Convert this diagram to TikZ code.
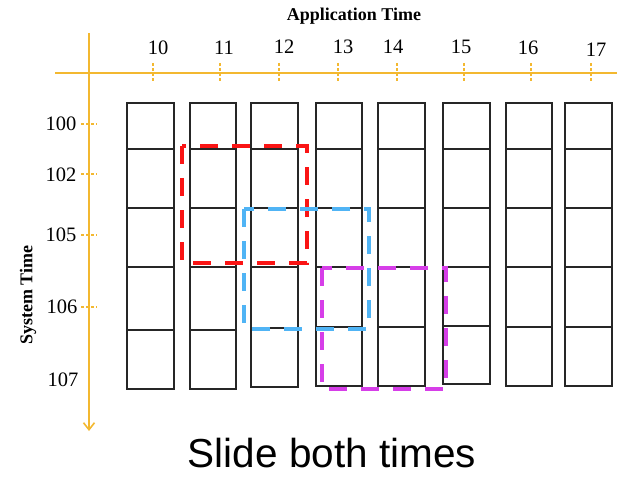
\documentclass[tikz,border=0pt]{standalone}
\usepackage{fontspec}
\setmainfont{Liberation Serif}
\newfontfamily\slidefont{Liberation Sans}
\usetikzlibrary{arrows.meta}
\definecolor{axisorange}{RGB}{243,184,48}
\definecolor{winred}{RGB}{250,20,20}
\definecolor{winblue}{RGB}{80,180,245}
\definecolor{winmag}{RGB}{214,62,232}
\tikzset{
  axis/.style={draw=axisorange, line width=1.6pt},
  tick/.style={draw=axisorange, line width=1.3pt, dash pattern=on 3pt off 2pt},
  ticklabel/.style={font=\fontsize{20.5}{21}\selectfont, inner sep=0pt},
  axistitle/.style={font=\fontsize{18}{19}\selectfont\bfseries, inner sep=0pt},
  cell/.style={draw=black!85, line width=1.2pt, rectangle, inner sep=0pt},
  window/.style={draw=#1, line width=4.5pt, dash pattern=on 18pt off 14pt},
}
\begin{document}
\begin{tikzpicture}[x=1pt, y=-1pt]
\useasboundingbox (0,0) rectangle (617,478);

% axes
\coordinate (hstart) at (55,73);
\coordinate (hend) at (617,73);
\coordinate (vstart) at (89,33);
\coordinate (vend) at (89,431);
\draw[axis] (hstart) -- (hend);
\draw[axis, -{Straight Barb[length=7pt, width=11pt]}] (vstart) -- (vend);

% application time ticks and labels
\foreach \lab/\tx/\lx/\ly in {10/153/158/48, 11/220/224/48, 12/279/284/47, 13/338/343/47,
                             14/397/393/47, 15/464/461/47, 16/531/528/48, 17/591/596/50} {
  \draw[tick] (\tx,63) -- (\tx,82);
  \node[ticklabel] (app\lab) at (\lx,\ly) {\lab};
}
\node[axistitle] (apptitle) at (354,16) {Application Time};

% system time ticks and labels
\foreach \lab/\ty in {100/124, 102/174, 105/235, 106/307} {
  \draw[tick] (81,\ty) -- (97,\ty);
}
\foreach \lab/\lx/\ly in {100/61/124, 102/61/175, 105/61/235, 106/62/307, 107/63/380} {
  \node[ticklabel] (sys\lab) at (\lx,\ly) {\lab};
}
\node[axistitle, rotate=90] (systitle) at (28,295) {System Time};

% columns of cells
\foreach \c/\xl/\xr/\yb/\yf in {1/127/174/389/330, 2/190/236/389/330, 3/251/298/387/328,
                             4/316/362/386/327, 5/378/425/386/327, 6/443/490/384/326,
                             7/506/552/386/327, 8/565/612/386/327} {
  \foreach \r/\ya/\yz in {1/103/149, 2/149/208, 3/208/267, 4/267/\yf, 5/\yf/\yb} {
    \pgfmathsetmacro{\w}{\xr-\xl}
    \pgfmathsetmacro{\h}{\yz-\ya}
    \node[cell, minimum width=\w pt, minimum height=\h pt] (cell\c-\r)
      at ({(\xl+\xr)/2},{(\ya+\yz)/2}) {};
  }
}

% sliding windows
\draw[window=winred] (182,146) rectangle (307,263);
\draw[window=winblue] (244,209) rectangle (369,329);
\draw[window=winmag] (322,268) rectangle (446,389);

% caption
\node[font=\slidefont\fontsize{40.5}{44}\selectfont, anchor=base, inner sep=0pt,
      text depth=0pt]
  (caption) at (332,467) {Slide both times};
\end{tikzpicture}
\end{document}
